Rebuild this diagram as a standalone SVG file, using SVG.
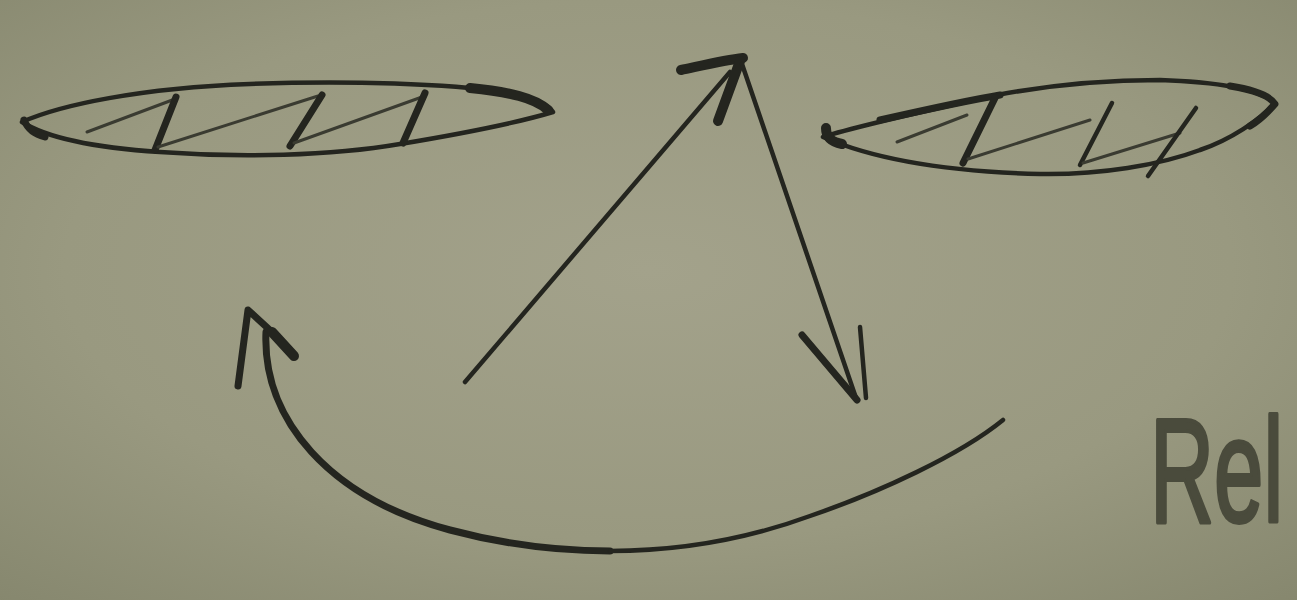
<svg xmlns="http://www.w3.org/2000/svg" width="1297" height="600" viewBox="0 0 1297 600">
  <defs>
    <radialGradient id="paper" cx="50%" cy="45%" r="75%">
      <stop offset="0" stop-color="#a3a28b"/>
      <stop offset="0.6" stop-color="#999980"/>
      <stop offset="1" stop-color="#86876e"/>
    </radialGradient>
    <style>
      .ink{fill:none;stroke:#24251f;stroke-linecap:round;stroke-linejoin:round}
      .thin{stroke-width:3;stroke:#3a3b31}
      .mid{stroke-width:4.5}
      .thick{stroke-width:7}
      .heavy{stroke-width:10}
      .label{font-family:"Liberation Sans","DejaVu Sans",sans-serif;font-size:148px;fill:#4a4b3c;stroke:#4a4b3c;stroke-width:4;stroke-linejoin:round}
    </style>
  </defs>
  <rect width="1297" height="600" fill="url(#paper)"/>

  <g id="leaf-left">
    <path class="ink mid" d="M22,122 C60,105 140,88 250,84 C350,80 450,84 505,92 C530,96 548,104 553,112 C520,122 460,134 400,144 C330,156 240,158 160,152 C100,148 50,140 22,122 Z"/>
    <path class="ink heavy" d="M470,88 C510,92 535,98 548,110"/>
    <path class="ink thick" d="M24,120 C28,130 35,134 45,137"/>
    <path class="ink thin" d="M87,132 L175,99"/>
    <path class="ink thick" d="M176,97 L155,150"/>
    <path class="ink thin" d="M158,147 L318,96"/>
    <path class="ink thick" d="M322,95 L290,146"/>
    <path class="ink thin" d="M294,143 L422,97"/>
    <path class="ink thick" d="M425,93 L403,143"/>
  </g>

  <g id="leaf-right">
    <path class="ink mid" d="M823,137 C860,125 930,110 997,95 C1050,85 1100,80 1160,80 C1220,82 1260,90 1275,103 C1260,120 1230,140 1200,150 C1160,165 1100,175 1040,174 C960,172 880,162 823,137 Z"/>
    <path class="ink heavy" d="M826,128 C826,138 832,142 842,144"/>
    <path class="ink thick" d="M1230,86 C1255,90 1270,96 1275,104 C1268,112 1260,120 1250,126"/>
    <path class="ink thick" d="M880,120 C920,111 970,100 1000,95"/>
    <path class="ink thin" d="M897,142 L967,115"/>
    <path class="ink thick" d="M995,98 L963,163"/>
    <path class="ink thin" d="M968,159 L1090,120"/>
    <path class="ink mid" d="M1112,103 L1080,165"/>
    <path class="ink thin" d="M1083,163 L1180,133"/>
    <path class="ink mid" d="M1196,108 L1148,176"/>
  </g>

  <g id="label">
    <text class="label" transform="translate(1150,522) scale(0.6,1)">Rel</text>
  </g>

  <g id="connectors">
    <path class="ink mid" d="M465,382 L730,72"/>
    <path class="ink heavy" d="M681,70 C700,66 725,60 743,58"/>
    <path class="ink heavy" d="M740,61 L718,121"/>
    <path class="ink mid" d="M742,64 L856,398"/>
    <path class="ink thick" d="M802,335 L857,400"/>
    <path class="ink mid" d="M860,327 L866,398"/>
    <path class="ink thick" d="M266,332 C262,420 330,498 450,530 C510,546 560,551 610,551"/>
    <path class="ink mid" d="M610,551 C680,551 750,538 810,516 C880,492 960,455 1003,420"/>
    <path class="ink thick" d="M238,386 L248,310 L272,332"/>
    <path class="ink heavy" d="M272,332 L294,356"/>
  </g>
</svg>
